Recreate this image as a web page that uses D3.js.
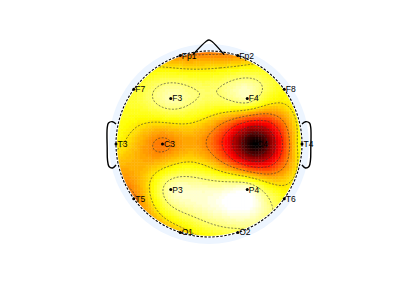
<!DOCTYPE html>
<html>
<head>
<meta charset="utf-8">
<script src="https://cdn.jsdelivr.net/npm/d3@7"></script>
<style>
  body { margin: 0; background: #fff; }
  svg { display: block; font-family: "Liberation Sans", Arial, sans-serif; }
</style>
</head>
<body>
<script>
// channel labels, polar angle (deg, 0 = nose, + = right) and radius (0.5 = head edge)
var labels = ["Fp1","Fp2","F7","F3","F4","F8","T3","C3","C4","T4","T5","P3","P4","T6","O1","O2"];
var theta  = [-18, 18, -54, -40, 40, 54, -90, -90, 90, 90, -126, -140, 140, 126, -162, 162];
var radius = [0.5, 0.5, 0.5, 0.32, 0.32, 0.5, 0.5, 0.25, 0.25, 0.5, 0.5, 0.32, 0.32, 0.5, 0.5, 0.5];
// potential at each channel (uV)
var values = [-0.6, -0.7, -2.3, -3.4, -3.35, -2.1, -1.9, -0.35, 4.0, -2.3, -0.4, -3.4, -3.8, -2.2, -1.3, -2.6];
var colorDomain = [-4, 4];
var contourLevels = [-2.86, -1.71, -0.57, 0.57, 1.71, 2.86];

var W = 400, H = 299;
var cx = 209, cy = 144, R = 93;
var gridN = 67;

var svg = d3.select("body").append("svg")
    .attr("width", W)
    .attr("height", H);

var x = d3.scaleLinear().domain([-0.5, 0.5]).range([cx - R, cx + R]);
var y = d3.scaleLinear().domain([-0.5, 0.5]).range([cy + R, cy - R]);

var chans = labels.map(function(l, i) {
    var t = theta[i] * Math.PI / 180;
    return {label: l, ex: radius[i] * Math.sin(t), ey: radius[i] * Math.cos(t), v: values[i]};
});

// biharmonic spline (matlab griddata 'v4') like eeglab topoplot
function green(d) { return d === 0 ? 0 : d * d * (Math.log(d) - 1); }
var n = chans.length;
var A = chans.map(function(a) {
    return chans.map(function(b) { return green(Math.hypot(a.ex - b.ex, a.ey - b.ey)); });
});
var b = chans.map(function(c) { return c.v; });
// gaussian elimination
for (var k = 0; k < n; k++) {
    var p = k;
    for (var r = k + 1; r < n; r++) if (Math.abs(A[r][k]) > Math.abs(A[p][k])) p = r;
    var tmp = A[k]; A[k] = A[p]; A[p] = tmp;
    var tb = b[k]; b[k] = b[p]; b[p] = tb;
    for (var r = k + 1; r < n; r++) {
        var f = A[r][k] / A[k][k];
        for (var c = k; c < n; c++) A[r][c] -= f * A[k][c];
        b[r] -= f * b[k];
    }
}
var w = new Array(n);
for (var k = n - 1; k >= 0; k--) {
    var s = b[k];
    for (var c = k + 1; c < n; c++) s -= A[k][c] * w[c];
    w[k] = s / A[k][k];
}
function interp(px, py) {
    var s = 0;
    for (var i = 0; i < n; i++) s += w[i] * green(Math.hypot(px - chans[i].ex, py - chans[i].ey));
    return s;
}

// grid, row 0 at the top
var step = 1 / (gridN - 1);
var grid = [];
var cells = [];
for (var j = 0; j < gridN; j++) {
    for (var i = 0; i < gridN; i++) {
        var gx = -0.5 + i * step, gy = 0.5 - j * step;
        var v = interp(gx, gy);
        grid.push(v);
        if (Math.hypot(gx, gy) <= 0.5 + step / 2) cells.push({gx: gx, gy: gy, v: v});
    }
}

// reversed 'hot' colormap, 64 entries
function hotRev(v) {
    var t = (v - colorDomain[0]) / (colorDomain[1] - colorDomain[0]);
    t = Math.max(0, Math.min(1, t));
    t = Math.round(t * 63) / 63;
    var u = 1 - t;
    var rr = Math.min(1, u / 0.375),
        gg = Math.max(0, Math.min(1, (u - 0.375) / 0.375)),
        bb = Math.max(0, Math.min(1, (u - 0.75) / 0.25));
    return d3.rgb(rr * 255, gg * 255, bb * 255) + "";
}

var defs = svg.append("defs");
defs.append("clipPath").attr("id", "headclip")
    .append("circle").attr("cx", cx).attr("cy", cy).attr("r", R);

// blank ring outside the head
svg.append("circle")
    .attr("cx", cx).attr("cy", cy).attr("r", R * 1.075)
    .attr("fill", "rgb(237,245,255)");

var cellPx = R * 2 * step;
var map = svg.append("g").attr("clip-path", "url(#headclip)");
map.selectAll("rect")
    .data(cells)
    .enter().append("rect")
    .attr("x", function(d) { return x(d.gx) - cellPx / 2; })
    .attr("y", function(d) { return y(d.gy) - cellPx / 2; })
    .attr("width", cellPx + 0.4)
    .attr("height", cellPx + 0.4)
    .attr("fill", function(d) { return hotRev(d.v); });

// contours
var contours = d3.contours().size([gridN, gridN]).thresholds(contourLevels)(grid);
var proj = d3.geoIdentity()
    .scale(cellPx)
    .translate([x(-0.5) - cellPx / 2, y(0.5) - cellPx / 2]);
map.selectAll("path.contour")
    .data(contours)
    .enter().append("path")
    .attr("class", "contour")
    .attr("d", d3.geoPath(proj))
    .attr("fill", "none")
    .attr("stroke", "#333")
    .attr("stroke-width", 0.6)
    .attr("stroke-dasharray", "2,1.5");

// head ring
svg.append("circle")
    .attr("cx", cx).attr("cy", cy).attr("r", R)
    .attr("fill", "none").attr("stroke", "#fff").attr("stroke-width", 2);
svg.append("circle")
    .attr("cx", cx).attr("cy", cy).attr("r", R)
    .attr("fill", "none").attr("stroke", "#000").attr("stroke-width", 1.1)
    .attr("stroke-dasharray", "2.5,1.5");

// nose and ears
var line = d3.line().curve(d3.curveCatmullRom);
var nose = [[-16, -89.5], [-3, -102.5], [0, -104], [3, -102.5], [15, -89.5]];
svg.append("path")
    .attr("d", line(nose.map(function(p) { return [cx + p[0], cy + p[1]]; })))
    .attr("fill", "none").attr("stroke", "#000").attr("stroke-width", 1.3);

var ear = [[-93, -20], [-96.5, -22.3], [-100.5, -21], [-101.8, -16], [-101.8, 4], [-101.5, 16],
           [-100, 22.5], [-96.5, 24], [-93, 21]];
[1, -1].forEach(function(sgn) {
    svg.append("path")
        .attr("d", line(ear.map(function(p) { return [cx + sgn * p[0], cy + p[1]]; })))
        .attr("fill", "none").attr("stroke", "#000").attr("stroke-width", 1.4);
});

// electrodes
var el = svg.append("g").selectAll("g")
    .data(chans)
    .enter().append("g")
    .attr("transform", function(d) { return "translate(" + x(d.ex) + "," + y(d.ey) + ")"; });
el.append("circle").attr("r", 1.5).attr("fill", "#000");
el.append("text")
    .attr("x", 1.5)
    .attr("y", 3)
    .attr("font-size", "8.5px")
    .attr("fill", "#000")
    .text(function(d) { return d.label; });
</script>
</body>
</html>
